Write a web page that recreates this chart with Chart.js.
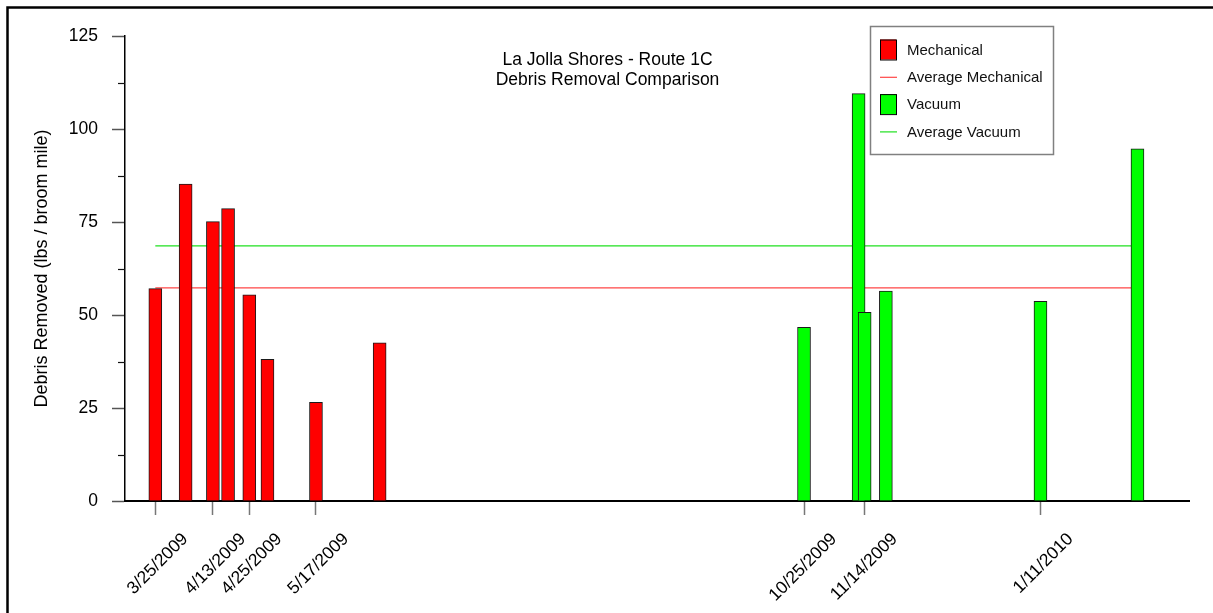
<!DOCTYPE html>
<html>
<head>
<meta charset="utf-8">
<title>La Jolla Shores - Route 1C</title>
<script src="https://cdn.jsdelivr.net/npm/chart.js@4.4.1/dist/chart.umd.min.js"></script>
<style>
  html, body { margin: 0; padding: 0; background: #fff; }
  #chart { display: block; }
</style>
</head>
<body>
<canvas id="chart" width="1213" height="613"></canvas>
<script>
// sweep dates (M/D/YYYY) and debris removed (lbs / broom mile)
const mechanicalDates = ['3/25/2009', '4/4/2009', '4/13/2009', '4/18/2009', '4/25/2009', '5/1/2009', '5/17/2009', '6/7/2009'];
const mechanicalValues = [57.1, 85.2, 75.1, 78.6, 55.4, 38.1, 26.5, 42.5];
const vacuumDates = ['10/25/2009', '11/12/2009', '11/14/2009', '11/21/2009', '1/11/2010', '2/12/2010'];
const vacuumValues = [46.7, 109.5, 50.7, 56.4, 53.7, 94.7];

// average lines run from first to last sweep
const averageSpan = ['3/25/2009', '2/12/2010'];
const averageMechanical = 57.3;
const averageVacuum = 68.6;

// axis
const xRange = ['3/15/2009', '3/1/2010'];
const xTickLabels = ['3/25/2009', '4/13/2009', '4/25/2009', '5/17/2009', '10/25/2009', '11/14/2009', '1/11/2010'];
const yMinorTicks = [12.5, 37.5, 62.5, 87.5, 112.5];
const titleLines = ['La Jolla Shores - Route 1C', 'Debris Removal Comparison'];

const FONT = "'Liberation Sans', Arial, sans-serif";

function toDay(s) {
    const [m, d, y] = s.split('/').map(Number);
    return (Date.UTC(y, m - 1, d) - Date.UTC(2009, 0, 1)) / 86400000;
}

function points(dates, values) {
    return dates.map((d, i) => ({ x: toDay(d), y: values[i] }));
}

// white page with the black frame on top and left
const frame = {
    id: 'frame',
    beforeDraw(chart) {
        const c = chart.ctx;
        c.save();
        c.fillStyle = '#fff';
        c.fillRect(0, 0, chart.width, chart.height);
        c.strokeStyle = '#000';
        c.lineWidth = 2.5;
        c.beginPath();
        c.moveTo(7.5, chart.height);
        c.lineTo(7.5, 7.5);
        c.lineTo(chart.width, 7.5);
        c.stroke();
        c.restore();
    }
};

// short ticks between the labelled ones
const minorTicks = {
    id: 'minorTicks',
    afterDraw(chart) {
        const y = chart.scales.y;
        const left = chart.chartArea.left;
        const c = chart.ctx;
        c.save();
        c.strokeStyle = '#111';
        c.lineWidth = 1.2;
        yMinorTicks.forEach(v => {
            const p = Math.round(y.getPixelForValue(v)) + 0.5;
            c.beginPath();
            c.moveTo(left - 7, p);
            c.lineTo(left, p);
            c.stroke();
        });
        c.restore();
    }
};

// two line title inside the plot
const innerTitle = {
    id: 'innerTitle',
    afterDraw(chart) {
        const c = chart.ctx;
        c.save();
        c.fillStyle = '#000';
        c.font = '17.5px ' + FONT;
        c.textAlign = 'center';
        c.textBaseline = 'alphabetic';
        titleLines.forEach((t, i) => c.fillText(t, chart.width / 2 + 1, 65 + i * 20));
        c.restore();
    }
};

// boxed legend at the upper right
const boxLegend = {
    id: 'boxLegend',
    afterDraw(chart) {
        const c = chart.ctx;
        const bx = 870, by = 26, bw = 183, bh = 128;
        c.save();
        c.fillStyle = '#fff';
        c.fillRect(bx, by, bw, bh);
        c.strokeStyle = '#808080';
        c.lineWidth = 1.5;
        c.strokeRect(bx + 0.5, by + 0.5, bw, bh);
        c.font = '15px ' + FONT;
        c.textBaseline = 'middle';
        chart.data.datasets.forEach((ds, i) => {
            const cy = by + 23.5 + i * 27.3;
            if (ds.type === 'bar') {
                c.fillStyle = ds.backgroundColor;
                c.fillRect(880, cy - 10, 16, 20);
                c.strokeStyle = '#000';
                c.lineWidth = 1;
                c.strokeRect(880.5, cy - 9.5, 16, 20);
            } else {
                c.strokeStyle = ds.borderColor;
                c.lineWidth = 1.2;
                c.beginPath();
                c.moveTo(880, cy + 0.5);
                c.lineTo(897, cy + 0.5);
                c.stroke();
            }
            c.fillStyle = '#111';
            c.fillText(ds.label, 907, cy + 1);
        });
        c.restore();
    }
};

const ctx = document.getElementById('chart').getContext('2d');
const chart = new Chart(ctx, {
    type: 'bar',
    data: {
        datasets: [{
            type: 'bar',
            label: 'Mechanical',
            data: points(mechanicalDates, mechanicalValues),
            backgroundColor: '#ff0000',
            borderColor: '#1a1a1a',
            borderWidth: 1,
            order: 1
        }, {
            type: 'line',
            label: 'Average Mechanical',
            data: averageSpan.map(d => ({ x: toDay(d), y: averageMechanical })),
            borderColor: '#ff4646',
            borderWidth: 1.2,
            pointRadius: 0,
            order: 2
        }, {
            type: 'bar',
            label: 'Vacuum',
            data: points(vacuumDates, vacuumValues),
            backgroundColor: '#00ff00',
            borderColor: '#1a1a1a',
            borderWidth: 1,
            order: 1
        }, {
            type: 'line',
            label: 'Average Vacuum',
            data: averageSpan.map(d => ({ x: toDay(d), y: averageVacuum })),
            borderColor: '#1fe01f',
            borderWidth: 1.2,
            pointRadius: 0,
            order: 2
        }]
    },
    options: {
        responsive: false,
        animation: false,
        devicePixelRatio: 1,
        layout: { padding: { left: 10, top: 36, right: 24, bottom: 0 } },
        datasets: { bar: { barThickness: 13, grouped: false } },
        plugins: {
            legend: { display: false },
            tooltip: { enabled: false }
        },
        scales: {
            x: {
                type: 'linear',
                offset: false,
                min: toDay(xRange[0]),
                max: toDay(xRange[1]),
                grid: { offset: false, drawOnChartArea: false, tickLength: 14, tickColor: '#777', tickWidth: 1.5 },
                border: { color: '#000', width: 2 },
                ticks: {
                    autoSkip: false,
                    minRotation: 45,
                    maxRotation: 45,
                    labelOffset: 30,
                    padding: 14,
                    color: '#000',
                    font: { family: FONT, size: 17.5 },
                    callback: (v, i) => xTickLabels[i]
                },
                afterBuildTicks: s => { s.ticks = xTickLabels.map(d => ({ value: toDay(d) })); },
                afterFit: s => { s.height = 112; }
            },
            y: {
                min: 0,
                max: 125,
                ticks: {
                    stepSize: 25,
                    padding: 14,
                    color: '#000',
                    font: { family: FONT, size: 17.5 }
                },
                grid: { drawOnChartArea: false, tickLength: 13, tickColor: '#555', tickWidth: 1.5 },
                border: { color: '#000', width: 1.5 },
                title: {
                    display: true,
                    text: 'Debris Removed (lbs / broom mile)',
                    color: '#000',
                    font: { family: FONT, size: 18 },
                    padding: { top: 21, bottom: 0 }
                },
                afterFit: s => { s.width = 115; }
            }
        }
    },
    plugins: [frame, minorTicks, innerTitle, boxLegend]
});
</script>
</body>
</html>
